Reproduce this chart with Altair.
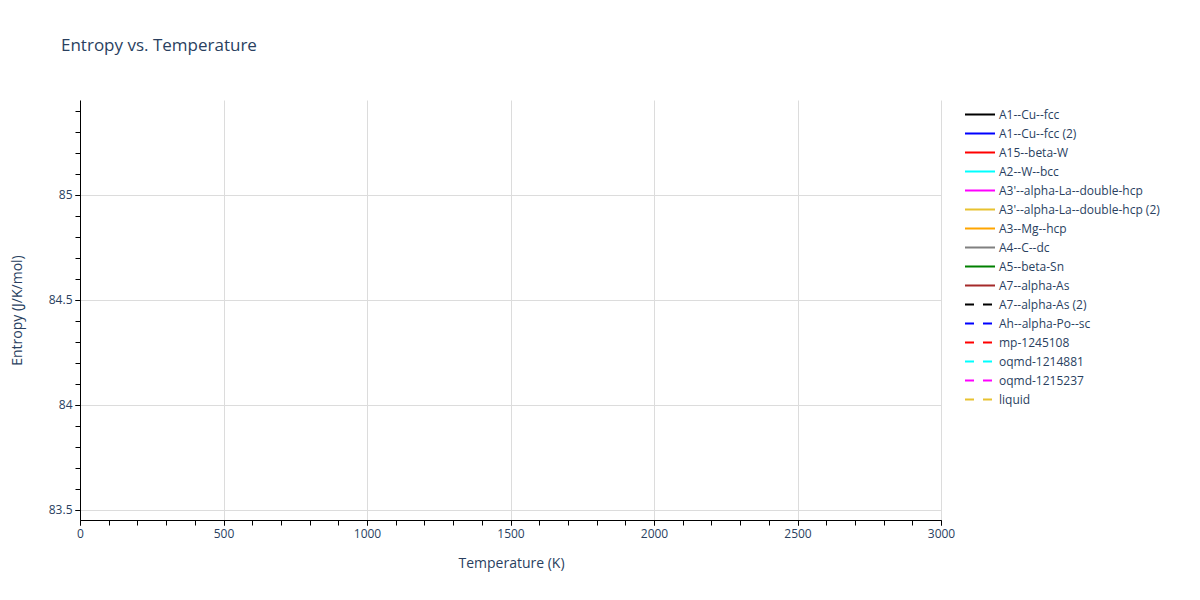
import altair as alt
import pandas as pd

# Series shown in the legend (no visible data points in the reference plot)
series_names = [
    "A1--Cu--fcc", "A1--Cu--fcc (2)", "A15--beta-W", "A2--W--bcc",
    "A3'--alpha-La--double-hcp", "A3'--alpha-La--double-hcp (2)",
    "A3--Mg--hcp", "A4--C--dc", "A5--beta-Sn", "A7--alpha-As",
    "A7--alpha-As (2)", "Ah--alpha-Po--sc", "mp-1245108",
    "oqmd-1214881", "oqmd-1215237", "liquid",
]
series_colors = [
    "black", "blue", "red", "cyan", "magenta", "#e8c230", "orange", "gray",
    "green", "brown", "black", "blue", "red", "cyan", "magenta", "#e8c230",
]
series_dashed = [False] * 10 + [True] * 6

# Temperature / entropy values: the reference shows no drawn data
temperature = [None] * len(series_names)
entropy = [None] * len(series_names)

x_minor = list(range(0, 3001, 100))
y_minor = [round(83.5 + 0.1 * i, 1) for i in range(20)]
x_major = list(range(0, 3001, 500))
y_major = [83.5, 84.0, 84.5, 85.0]

df = pd.DataFrame({
    "series": series_names,
    "T": temperature,
    "S": entropy,
})

FONT = "Open Sans"
TXT = "#2a3f5f"
X_DOM = [0, 3000]
Y_DOM = [83.452, 85.452]

dash_range = [[9, 9] if d else [1, 0] for d in series_dashed]

legend_kw = dict(title=None, orient="none", legendX=884, legendY=6,
                 symbolType="stroke", symbolSize=900, symbolStrokeWidth=2,
                 clipHeight=17, rowPadding=2, labelFont=FONT, labelFontSize=12,
                 labelColor=TXT, labelOffset=3, labelLimit=300)

lines = alt.Chart(df).mark_line(strokeWidth=2).encode(
    x=alt.X("T:Q", scale=alt.Scale(domain=X_DOM, nice=False, zero=False),
            axis=alt.Axis(values=x_major, orient="bottom", title="Temperature (K)",
                          grid=True, format="d", labelFlush=False,
                          gridColor="#dcdcdc", domainColor="black", tickColor="black",
                          tickSize=5, labelPadding=3, labelFontSize=12, labelColor=TXT,
                          labelFont=FONT, titleFont=FONT, titleFontSize=14, titleColor=TXT,
                          titleFontWeight="normal", titleX=431, titleY=43,
                          titleBaseline="middle", titleAnchor="middle", titleAlign="center")),
    y=alt.Y("S:Q", scale=alt.Scale(domain=Y_DOM, nice=False, zero=False),
            axis=alt.Axis(values=y_major, orient="left", title="Entropy (J/K/mol)",
                          grid=True, format="~g", labelFlush=False,
                          gridColor="#dcdcdc", domainColor="black", tickColor="black",
                          tickSize=5, labelPadding=3, labelFontSize=12, labelColor=TXT,
                          labelFont=FONT, titleFont=FONT, titleFontSize=14, titleColor=TXT,
                          titleFontWeight="normal", titleX=-63, titleY=210, titleAngle=-90,
                          titleBaseline="middle", titleAlign="center")),
    color=alt.Color("series:N",
                    scale=alt.Scale(domain=series_names, range=series_colors),
                    legend=alt.Legend(**legend_kw)),
    strokeDash=alt.StrokeDash("series:N",
                              scale=alt.Scale(domain=series_names, range=dash_range),
                              legend=alt.Legend(**legend_kw)),
)

minor_df = pd.DataFrame({"T": x_minor[:20], "S": y_minor})
minor = alt.Chart(minor_df).mark_point(opacity=0).encode(
    x=alt.X("T:Q", scale=alt.Scale(domain=X_DOM, nice=False, zero=False),
            axis=alt.Axis(values=x_minor, orient="bottom", labels=False, grid=False,
                          domain=False, tickColor="black", tickSize=5, title=None)),
    y=alt.Y("S:Q", scale=alt.Scale(domain=Y_DOM, nice=False, zero=False),
            axis=alt.Axis(values=y_minor, orient="left", labels=False, grid=False,
                          domain=False, tickColor="black", tickSize=5, title=None)),
)

chart = alt.layer(minor, lines).resolve_axis(x="independent", y="independent").properties(
    width=861, height=420,
    title=alt.TitleParams("Entropy vs. Temperature", anchor="start", frame="group",
                          dx=-19, offset=45, font=FONT, fontSize=17, color=TXT,
                          fontWeight="normal"),
    padding={"left": 72, "top": 92, "right": 250, "bottom": 70},
    autosize=alt.AutoSizeParams(type="none"),
).configure_view(stroke=None)

chart.save("out.html", embed_options={"renderer": "svg", "actions": False})
